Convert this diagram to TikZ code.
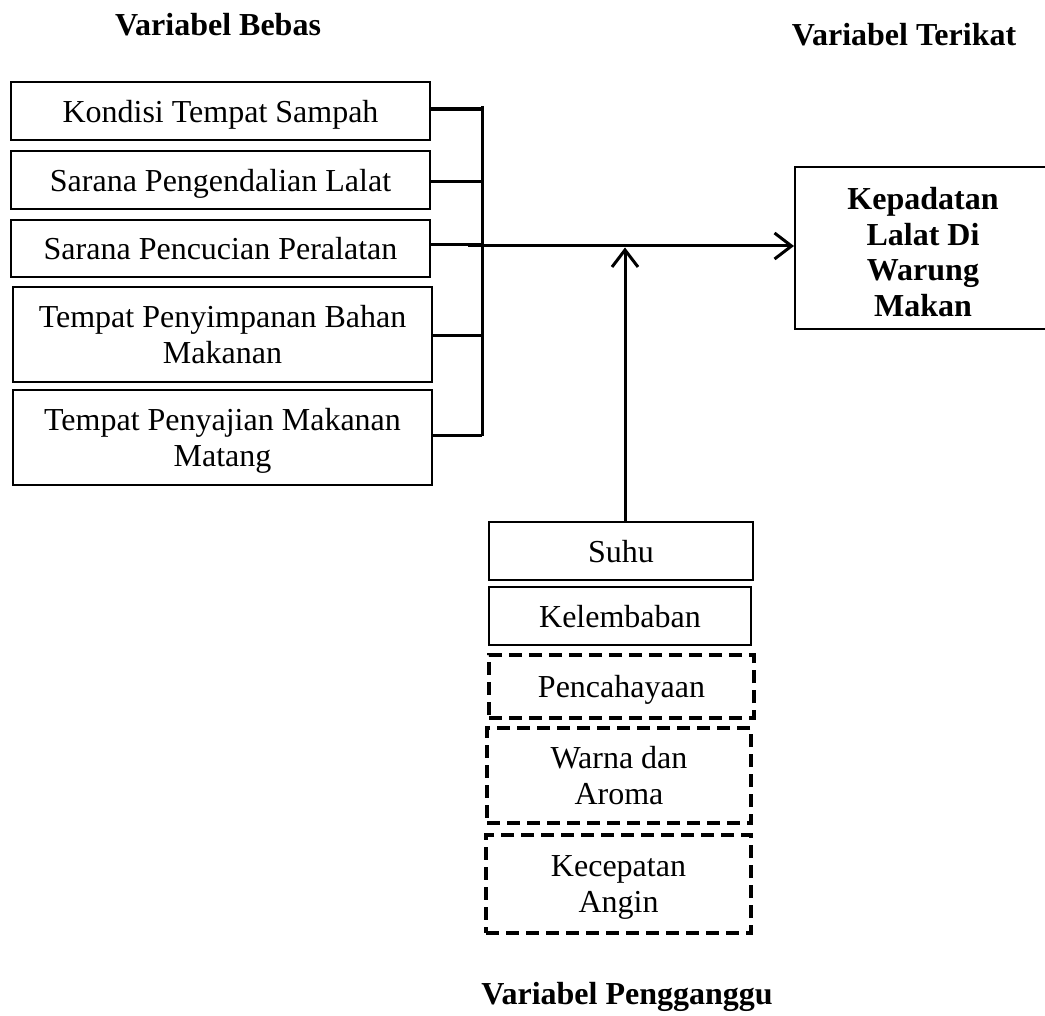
\documentclass[tikz,border=0pt]{standalone}
\usepackage{fontspec}
\setmainfont{Liberation Serif}
\usetikzlibrary{arrows.meta}
\tikzset{
  box/.style={draw=black, line width=2pt, inner sep=0pt, align=center, text depth=0pt,
    font=\fontsize{32}{36.5}\selectfont},
  dbox/.style={box, line width=3.5pt, dash pattern=on 13pt off 7pt},
  conn/.style={draw=black, line width=3pt},
  arr/.style={conn, -{Straight Barb[length=17pt,width=26pt,line width=3pt]}},
  title/.style={font=\fontsize{32}{36}\selectfont\bfseries, inner sep=0pt}
}
\begin{document}
\begin{tikzpicture}[x=1pt,y=-1pt]
\useasboundingbox (0,0) rectangle (1045,1016);
% titles
\node[title] (tb) at (218,25) {Variabel Bebas};
\node[title] (tt) at (904,35) {Variabel Terikat};
\node[title] (tp) at (627,997) {Variabel Pengganggu};
% independent variables
\node[box, minimum width=419pt, minimum height=58pt] (b1) at (220.5,111) {Kondisi Tempat Sampah};
\node[box, minimum width=419pt, minimum height=58pt] (b2) at (220.5,180) {Sarana Pengendalian Lalat};
\node[box, minimum width=419pt, minimum height=57pt] (b3) at (220.5,248.5) {Sarana Pencucian Peralatan};
\node[box, minimum width=419pt, minimum height=95pt] (b4) at (222.5,334.5) {Tempat Penyimpanan Bahan\\Makanan};
\node[box, minimum width=419pt, minimum height=95pt] (b5) at (222.5,437.5) {Tempat Penyajian Makanan\\Matang};
% dependent variable
\node[box, minimum width=256pt, minimum height=162pt] (kep) at (923,248) {};
\node[inner sep=0pt, align=center, text depth=0pt, font=\fontsize{32}{35.5}\selectfont\bfseries]
  (kept) at ([yshift=-4pt]kep.center) {Kepadatan\\Lalat Di\\Warung\\Makan};
% confounding variables
\node[box, minimum width=264pt, minimum height=58pt] (suhu) at (621,551) {Suhu};
\node[box, minimum width=262pt, minimum height=58pt] (kel) at (620,616) {Kelembaban};
\node[dbox, minimum width=265pt, minimum height=63pt] (pen) at (621.5,686.5) {Pencahayaan};
\node[dbox, minimum width=264pt, minimum height=95pt] (war) at (619,775.5) {Warna dan\\Aroma};
\node[dbox, minimum width=265pt, minimum height=98pt] (kec) at (618.5,884) {Kecepatan\\Angin};
% bracket
\coordinate (bt) at (482,106);
\coordinate (bb) at (482,436);
\coordinate (c1) at (482,109);
\coordinate (c2) at (482,182);
\coordinate (c3) at (482,245);
\coordinate (c4) at (482,336);
\draw[conn] (bt) -- (bb);
\draw[conn, line width=3.5pt] (b1.east |- c1) -- (c1);
\draw[conn] (b2.east |- c2) -- (c2);
\draw[conn] (b3.east |- c3) -- (c3);
\draw[conn] (b4.east |- c4) -- (c4);
\draw[conn] (b5.east |- bb) -- (bb);
% main arrow
\coordinate (ms) at (468,246);
\draw[arr] (ms) -- (ms -| kep.west);
% upward arrow
\coordinate (j) at (625,247.5);
\draw[arr] (suhu.north -| j) -- (j);
\end{tikzpicture}
\end{document}
